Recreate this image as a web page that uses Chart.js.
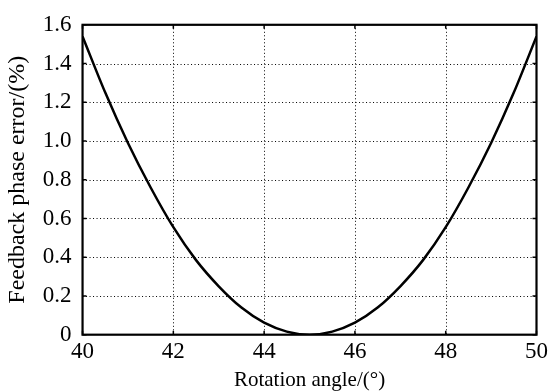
<!DOCTYPE html>
<html>
<head>
<meta charset="utf-8">
<script src="https://cdn.jsdelivr.net/npm/chart.js@4"></script>
<style>
  html, body { margin: 0; padding: 0; background: #fff; }
  #wrap { width: 553px; height: 391px; }
</style>
</head>
<body>
<div id="wrap"><canvas id="c"></canvas></div>
<script>
// rotation angle (deg) and feedback phase error (%)
const angles = [40, 40.5, 41, 41.5, 42, 42.5, 43, 43.5, 44, 44.5, 45, 45.5, 46, 46.5, 47, 47.5, 48, 48.5, 49, 49.5, 50];
const errors = [1.54, 1.25, 0.99, 0.76, 0.555, 0.385, 0.25, 0.14, 0.062, 0.016, 0, 0.016, 0.062, 0.14, 0.25, 0.385, 0.555, 0.76, 0.99, 1.25, 1.54];
const xTicks = [40, 42, 44, 46, 48, 50];
const yTicks = [0, 0.2, 0.4, 0.6, 0.8, 1.0, 1.2, 1.4, 1.6];

const serif = '"Liberation Serif", "Times New Roman", serif';

// dotted grid behind the curve
const gridPlugin = {
  id: 'dotgrid',
  beforeDatasetsDraw(chart) {
    const { ctx, chartArea: a, scales } = chart;
    ctx.save();
    ctx.strokeStyle = '#000';
    ctx.lineWidth = 1;
    ctx.setLineDash([1, 2.5]);
    xTicks.slice(1, -1).forEach(v => {
      const px = Math.round(scales.x.getPixelForValue(v)) + 0.5;
      ctx.beginPath(); ctx.moveTo(px, a.top); ctx.lineTo(px, a.bottom); ctx.stroke();
    });
    yTicks.slice(1, -1).forEach(v => {
      const py = Math.round(scales.y.getPixelForValue(v)) + 0.5;
      ctx.beginPath(); ctx.moveTo(a.left, py); ctx.lineTo(a.right, py); ctx.stroke();
    });
    ctx.restore();
  }
};

// frame box + inward tick marks on all four sides
const framePlugin = {
  id: 'frame',
  afterDatasetsDraw(chart) {
    const { ctx, chartArea: a, scales } = chart;
    ctx.save();
    ctx.strokeStyle = '#000';
    ctx.lineWidth = 1.5;
    xTicks.forEach(v => {
      const px = scales.x.getPixelForValue(v);
      ctx.beginPath();
      ctx.moveTo(px, a.bottom); ctx.lineTo(px, a.bottom - 4);
      ctx.moveTo(px, a.top); ctx.lineTo(px, a.top + 4);
      ctx.stroke();
    });
    yTicks.forEach(v => {
      const py = scales.y.getPixelForValue(v);
      ctx.beginPath();
      ctx.moveTo(a.left, py); ctx.lineTo(a.left + 4, py);
      ctx.moveTo(a.right, py); ctx.lineTo(a.right - 4, py);
      ctx.stroke();
    });
    ctx.lineWidth = 2.2;
    ctx.strokeRect(a.left, a.top, a.right - a.left, a.bottom - a.top);
    ctx.restore();
  }
};

new Chart(document.getElementById('c'), {
  type: 'line',
  data: {
    datasets: [{
      data: angles.map((a, i) => ({ x: a, y: errors[i] })),
      borderColor: '#000',
      borderWidth: 2.5,
      pointRadius: 0,
      cubicInterpolationMode: 'monotone',
      fill: false
    }]
  },
  options: {
    responsive: true,
    maintainAspectRatio: false,
    animation: false,
    layout: { padding: { top: 14, right: 0, left: 3, bottom: 0 } },
    plugins: { legend: { display: false }, tooltip: { enabled: false } },
    scales: {
      x: {
        type: 'linear',
        min: 40, max: 50,
        afterBuildTicks: s => { s.ticks = xTicks.map(v => ({ value: v })); },
        ticks: { color: '#000', font: { family: serif, size: 23, lineHeight: 1.1 }, padding: 5, maxRotation: 0 },
        grid: { display: false, drawTicks: false },
        border: { display: false },
        title: { display: true, text: 'Rotation angle/(°)', color: '#000', font: { family: serif, size: 21, lineHeight: 1.0 }, padding: { top: 0, bottom: 0 } }
      },
      y: {
        min: 0, max: 1.6,
        afterBuildTicks: s => { s.ticks = yTicks.map(v => ({ value: v })); },
        ticks: {
          color: '#000', font: { family: serif, size: 23 }, padding: 11,
          callback: v => v === 0 ? '0' : v.toFixed(1)
        },
        grid: { display: false, drawTicks: false },
        border: { display: false },
        title: { display: true, text: 'Feedback phase error/(%)', color: '#000', font: { family: serif, size: 24 }, padding: { top: 0, bottom: 0 } }
      }
    }
  },
  plugins: [gridPlugin, framePlugin]
});
</script>
</body>
</html>
